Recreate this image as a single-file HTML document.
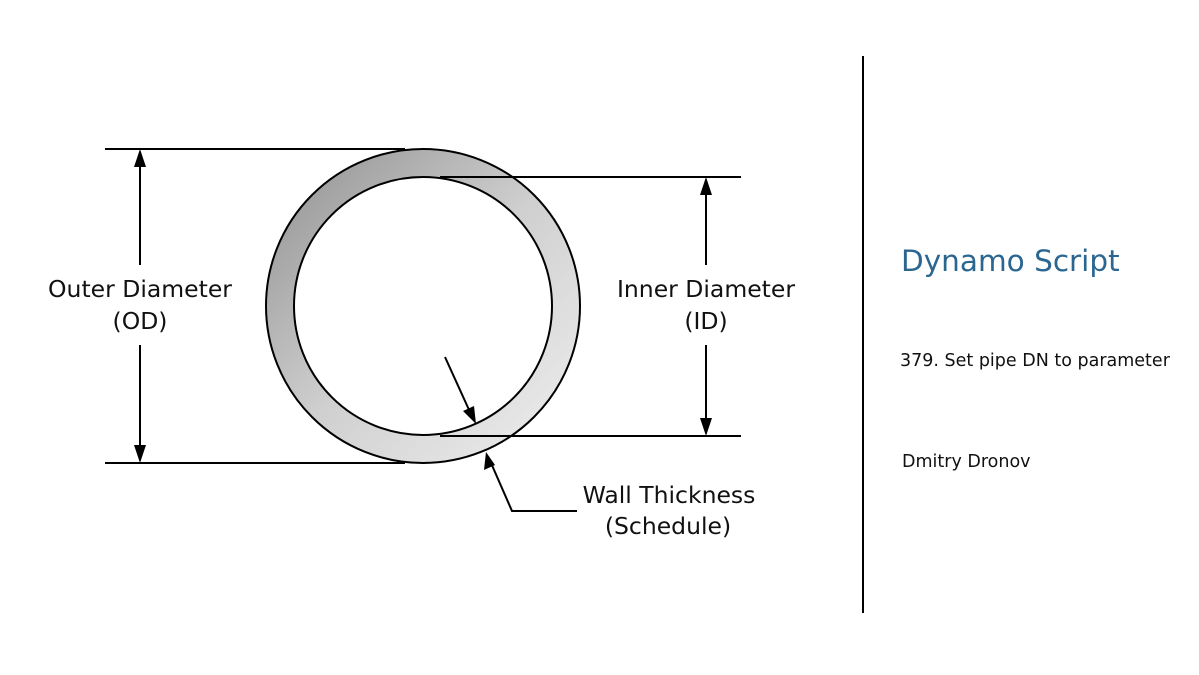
<!DOCTYPE html>
<html><head><style>
body{margin:0;background:#fff;}
svg{display:block}
text{font-family:"DejaVu Sans","Liberation Sans",sans-serif;}
</style></head><body>
<svg width="1199" height="675" viewBox="0 0 1199 675">
<defs>
<linearGradient id="g" x1="0" y1="0" x2="1" y2="1">
<stop offset="0" stop-color="#8e8e8e"/>
<stop offset="0.5" stop-color="#cfcfcf"/>
<stop offset="1" stop-color="#f0f0f0"/>
</linearGradient>
</defs>
<path d="M423,149 a157,157 0 1,0 0.01,0 z M423,177 a129,129 0 1,1 -0.01,0 z" fill="url(#g)" fill-rule="evenodd"/>
<circle cx="423" cy="306" r="157" fill="none" stroke="#000" stroke-width="2"/>
<circle cx="423" cy="306" r="129" fill="#fff" stroke="#000" stroke-width="2"/>
<g stroke="#000" stroke-width="2" fill="none">
<line x1="105" y1="149" x2="405" y2="149"/>
<line x1="105" y1="463" x2="405" y2="463"/>
<line x1="440" y1="177" x2="741" y2="177"/>
<line x1="440" y1="436" x2="741" y2="436"/>
<line x1="140" y1="265" x2="140" y2="165"/>
<line x1="140" y1="345" x2="140" y2="447"/>
<line x1="706" y1="265" x2="706" y2="193"/>
<line x1="706" y1="345" x2="706" y2="420"/>
<line x1="445" y1="357" x2="470" y2="412"/>
<polyline points="577,511 512,511 491,463"/>
<line x1="863" y1="56" x2="863" y2="613"/>
</g>
<g fill="#000">
<polygon points="140,149 134,167 146,167"/>
<polygon points="140,463 134,445 146,445"/>
<polygon points="706,177 700,195 712,195"/>
<polygon points="706,436 700,418 712,418"/>
<polygon points="476,424 463,411 474,406"/>
<polygon points="486,452 484,470 495,465"/>
</g>
<g font-size="23.5" fill="#111" text-anchor="middle">
<text x="140" y="297">Outer Diameter</text>
<text x="140" y="329">(OD)</text>
<text x="706" y="297">Inner Diameter</text>
<text x="706" y="329">(ID)</text>
<text x="669" y="503">Wall Thickness</text>
<text x="668" y="534">(Schedule)</text>
</g>
<text x="901" y="271" font-size="29.5" fill="#2b6690">Dynamo Script</text>
<text x="900" y="366" font-size="17.5" fill="#111">379. Set pipe DN to parameter</text>
<text x="902" y="467" font-size="17.5" fill="#111">Dmitry Dronov</text>
</svg>
</body></html>
